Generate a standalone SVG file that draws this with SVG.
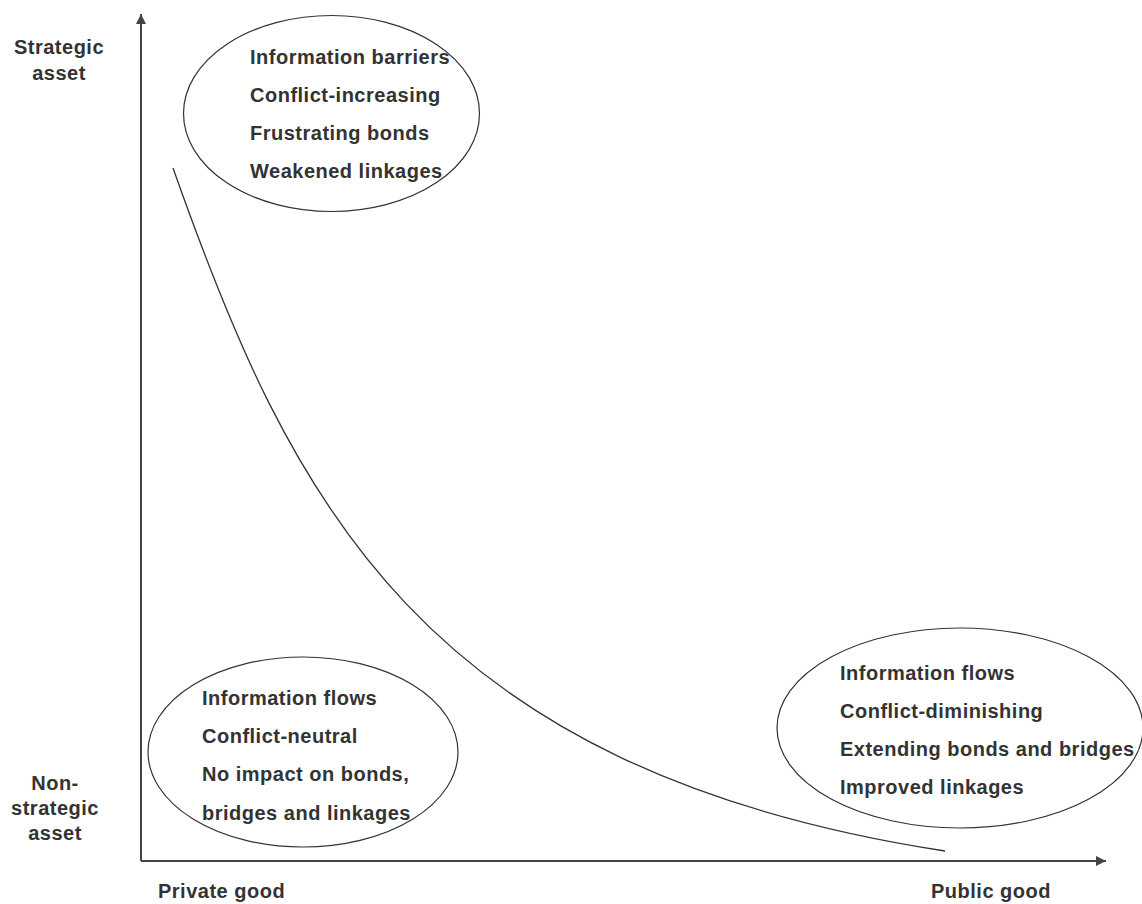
<svg xmlns="http://www.w3.org/2000/svg" width="1142" height="904" viewBox="0 0 1142 904">
<defs>
<style>
text{font-family:"Liberation Sans",Arial,sans-serif;font-weight:bold;font-size:20px;fill:#333;letter-spacing:0.5px}
.mid{text-anchor:middle}
.ell{fill:none;stroke:#333;stroke-width:1.2}
.axis{fill:none;stroke:#444;stroke-width:2}
.curve{fill:none;stroke:#333;stroke-width:1.3}
</style>
<marker id="arr" viewBox="0 0 10 10" refX="10" refY="5" markerWidth="10" markerHeight="10" markerUnits="userSpaceOnUse" orient="auto"><path d="M0,0 L10,5 L0,10 z" fill="#444"/></marker>
</defs>
<rect width="1142" height="904" fill="#fff"/>
<g id="connectors">
<path class="axis" d="M141,861 L141,14" marker-end="url(#arr)"/>
<path class="axis" d="M141,861 L1106,861" marker-end="url(#arr)"/>
<path class="curve" d="M173,168 C290,500 420,770 945,851"/>
</g>
<g id="label-strategic">
<text class="mid" x="59" y="54">Strategic</text>
<text class="mid" x="59" y="80">asset</text>
</g>
<g id="label-nonstrategic">
<text class="mid" x="55" y="790">Non-</text>
<text class="mid" x="55" y="815">strategic</text>
<text class="mid" x="55" y="840">asset</text>
</g>
<g id="label-private"><text x="158" y="898">Private good</text></g>
<g id="label-public"><text x="931" y="898">Public good</text></g>
<g id="node-top">
<ellipse class="ell" cx="331.5" cy="113.5" rx="148" ry="98"/>
<text x="250" y="64">Information barriers</text>
<text x="250" y="102">Conflict-increasing</text>
<text x="250" y="140">Frustrating bonds</text>
<text x="250" y="178">Weakened linkages</text>
</g>
<g id="node-bottom-left">
<ellipse class="ell" cx="303" cy="752" rx="155" ry="95"/>
<text x="202" y="705">Information flows</text>
<text x="202" y="743">Conflict-neutral</text>
<text x="202" y="781">No impact on bonds,</text>
<text x="202" y="820">bridges and linkages</text>
</g>
<g id="node-right">
<ellipse class="ell" cx="960" cy="728" rx="183" ry="100"/>
<text x="840" y="680">Information flows</text>
<text x="840" y="718">Conflict-diminishing</text>
<text x="840" y="756">Extending bonds and bridges</text>
<text x="840" y="794">Improved linkages</text>
</g>
</svg>
